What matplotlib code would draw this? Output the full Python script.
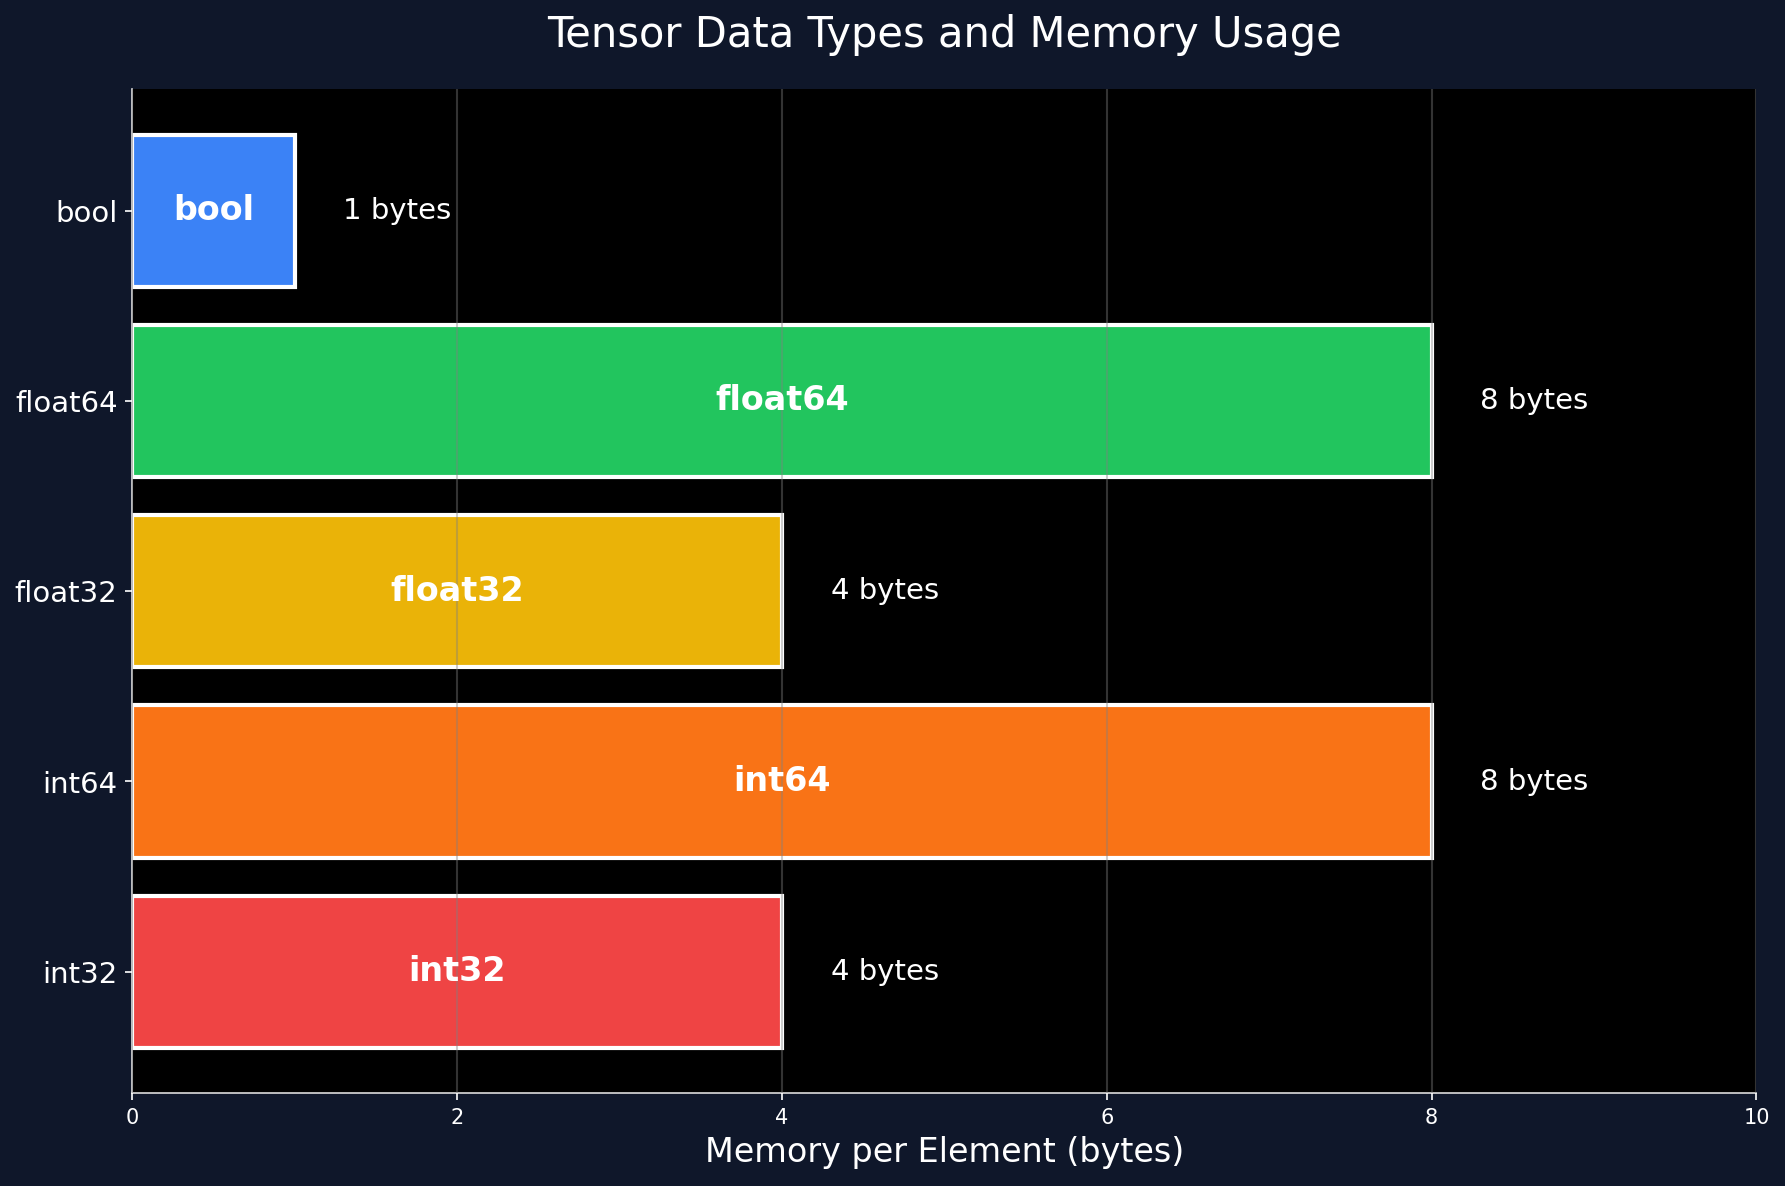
import matplotlib
matplotlib.use("Agg")
import matplotlib.pyplot as plt

# data (bottom to top)
dtypes = ["int32", "int64", "float32", "float64", "bool"]
bytes_per_elem = [4, 8, 4, 8, 1]
colors = ["#ef4444", "#f97316", "#eab308", "#22c55e", "#3b82f6"]

bg = "#0f172a"

fig, ax = plt.subplots(figsize=(11.9, 7.907), dpi=150)
fig.patch.set_facecolor(bg)
ax.set_facecolor("black")
fig.subplots_adjust(left=0.074, right=0.984, top=0.925, bottom=0.078)

bars = ax.barh(dtypes, bytes_per_elem, height=0.8, color=colors,
               edgecolor="white", linewidth=2, zorder=1)

for bar, name, val in zip(bars, dtypes, bytes_per_elem):
    y = bar.get_y() + bar.get_height() / 2
    ax.text(val / 2, y, name, ha="center", va="center", color="white",
            fontsize=16, fontweight="bold", zorder=3)
    ax.text(val + 0.3, y, f"{val} bytes", ha="left", va="center",
            color="white", fontsize=14, zorder=3)

ax.set_xlim(0, 10)
ax.grid(True, axis="x", color="gray", alpha=0.4, linewidth=1)
ax.set_axisbelow(False)
for gl in ax.get_xgridlines():
    gl.set_zorder(2)

ax.set_title("Tensor Data Types and Memory Usage", color="white",
             fontsize=20, pad=20)
ax.set_xlabel("Memory per Element (bytes)", color="white", fontsize=16)

ax.tick_params(axis="y", colors="white", labelsize=14)
ax.tick_params(axis="x", colors="white", labelsize=10)
for side in ("top", "right"):
    ax.spines[side].set_visible(False)
for side in ("left", "bottom"):
    ax.spines[side].set_color("#dddddd")

fig.savefig("out.png", dpi=150, facecolor=bg)
